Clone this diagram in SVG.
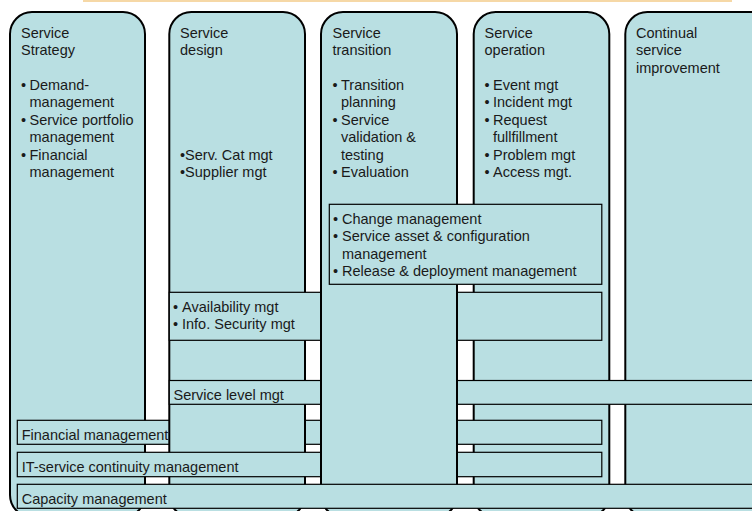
<svg xmlns="http://www.w3.org/2000/svg" width="752" height="511" viewBox="0 0 752 511">
<style>
.col{fill:#B9DFE2;stroke:#000;stroke-width:2}
.bar{fill:#B9DFE2;stroke:#000;stroke-width:1.2}
text{font-family:"Liberation Sans",Arial,Helvetica,sans-serif;font-size:14.5px;fill:#1a1a1a}
</style>
<rect x="0" y="0" width="752" height="511" fill="#ffffff"/>
<rect x="83" y="0" width="649" height="2" fill="#F6D8A6"/>

<g id="col-strategy">
<rect class="col" x="10" y="12" width="135" height="505" rx="22" ry="22"/>
<text x="21" y="37.7">Service</text>
<text x="21" y="55.1">Strategy</text>
<text><tspan x="21" y="90">•</tspan><tspan x="29.5">Demand-</tspan></text>
<text x="29.5" y="107.4">management</text>
<text><tspan x="21" y="124.8">•</tspan><tspan x="29.5">Service portfolio</tspan></text>
<text x="29.5" y="142.2">management</text>
<text><tspan x="21" y="159.6">•</tspan><tspan x="29.5">Financial</tspan></text>
<text x="29.5" y="177">management</text>
</g>

<g id="col-operation">
<rect class="col" x="473.7" y="12" width="135.6" height="505" rx="22" ry="22"/>
<text x="484.5" y="37.7">Service</text>
<text x="484.5" y="55.1">operation</text>
<text><tspan x="484.5" y="90">•</tspan><tspan x="493">Event mgt</tspan></text>
<text><tspan x="484.5" y="107.4">•</tspan><tspan x="493">Incident mgt</tspan></text>
<text><tspan x="484.5" y="124.8">•</tspan><tspan x="493">Request</tspan></text>
<text x="493" y="142.2">fullfillment</text>
<text><tspan x="484.5" y="159.6">•</tspan><tspan x="493">Problem mgt</tspan></text>
<text><tspan x="484.5" y="177">•</tspan><tspan x="493">Access mgt.</tspan></text>
</g>

<g id="col-improvement">
<rect class="col" x="625.3" y="12" width="200" height="505" rx="22" ry="22"/>
<text x="636" y="37.7">Continual</text>
<text x="636" y="55.1">service</text>
<text x="636" y="72.5">improvement</text>
</g>

<g id="bar-financial">
<rect class="bar" x="17.3" y="420.3" width="584.5" height="24"/>
<text x="21.7" y="440">Financial management</text>
</g>

<g id="col-design">
<rect class="col" x="169.3" y="12" width="135.7" height="505" rx="22" ry="22"/>
<text x="180" y="37.7">Service</text>
<text x="180" y="55.1">design</text>
<text x="180" y="159.6">•Serv. Cat mgt</text>
<text x="180" y="177">•Supplier mgt</text>
</g>

<g id="bar-continuity">
<rect class="bar" x="17.3" y="452.3" width="584.5" height="24.4"/>
<text x="21.7" y="471.7">IT-service continuity management</text>
</g>

<g id="bar-availability">
<rect class="bar" x="169.3" y="292.3" width="432.5" height="48"/>
<text><tspan x="173" y="312.3">•</tspan><tspan x="182">Availability mgt</tspan></text>
<text><tspan x="173" y="329.3">•</tspan><tspan x="182">Info. Security mgt</tspan></text>
</g>

<g id="bar-service-level">
<rect class="bar" x="169.3" y="380.5" width="600" height="23.8"/>
<text x="173.5" y="399.5">Service level mgt</text>
</g>

<g id="col-transition">
<rect class="col" x="321" y="12" width="136" height="505" rx="22" ry="22"/>
<text x="332.5" y="37.7">Service</text>
<text x="332.5" y="55.1">transition</text>
<text><tspan x="332.5" y="90">•</tspan><tspan x="341">Transition</tspan></text>
<text x="341" y="107.4">planning</text>
<text><tspan x="332.5" y="124.8">•</tspan><tspan x="341">Service</tspan></text>
<text x="341" y="142.2">validation &amp;</text>
<text x="341" y="159.6">testing</text>
<text><tspan x="332.5" y="177">•</tspan><tspan x="341">Evaluation</tspan></text>
</g>

<g id="box-change">
<rect class="bar" x="329.3" y="204.3" width="272.5" height="80"/>
<text><tspan x="333" y="224">•</tspan><tspan x="342">Change management</tspan></text>
<text><tspan x="333" y="241.3">•</tspan><tspan x="342">Service asset &amp; configuration</tspan></text>
<text x="342" y="258.6">management</text>
<text><tspan x="333" y="276">•</tspan><tspan x="342">Release &amp; deployment management</tspan></text>
</g>

<g id="bar-capacity">
<rect class="bar" x="17.3" y="484.3" width="760" height="24"/>
<text x="21.7" y="504">Capacity management</text>
</g>

<g id="connectors"/>
</svg>
